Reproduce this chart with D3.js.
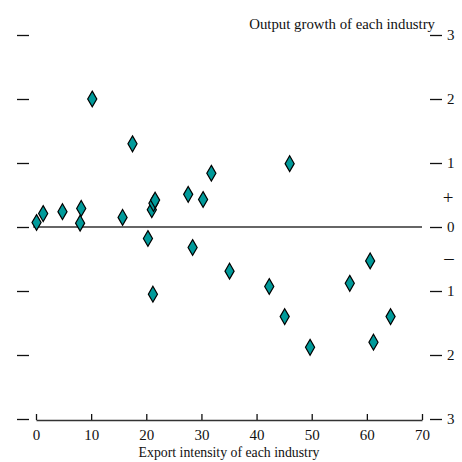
<!DOCTYPE html>
<html>
<head>
<meta charset="utf-8">
<script src="https://cdn.jsdelivr.net/npm/d3@7"></script>
<style>
    body { margin: 0; background: #fff; }
</style>
</head>
<body>
<svg id="chart" width="462" height="462"></svg>
<script>
// export intensity (%) and output growth for each industry
const exportIntensity = [0.1, 1.3, 4.8, 8.2, 8.0, 10.2, 15.7, 17.5, 20.3, 21.0, 21.3, 21.6, 21.2,
    27.6, 28.4, 30.3, 31.8, 35.1, 42.3, 45.1, 46.0, 49.7, 56.9, 60.6, 61.2, 64.3];
const outputGrowth = [0.07, 0.21, 0.24, 0.29, 0.06, 2.0, 0.15, 1.3, -0.18, 0.27, 0.37, 0.42, -1.05,
    0.51, -0.32, 0.43, 0.84, -0.69, -0.93, -1.40, 0.99, -1.88, -0.88, -0.53, -1.80, -1.40];

const xTicks = [0, 10, 20, 30, 40, 50, 60, 70];
const yTicks = [-3, -2, -1, 0, 1, 2, 3];

const xTitle = 'Export intensity of each industry';
const yTitle = 'Output growth of each industry';

const fontFamily = '"Liberation Serif", "Times New Roman", Times, serif';
const ink = '#111';

const points = exportIntensity.map((v, i) => ({ x: v, y: outputGrowth[i] }));

const svg = d3.select('#chart');

const scales = {
    x: d3.scaleLinear().domain([0, 70]).range([36, 422]),
    y: d3.scaleLinear().domain([-3, 3]).range([419, 35])
};

function styleText(sel, size) {
    sel.attr('font-family', fontFamily).attr('font-size', size).attr('fill', ink);
}

// left ticks, no labels
svg.append('g')
    .attr('transform', 'translate(29,0)')
    .call(d3.axisLeft(scales.y).tickValues(yTicks).tickSize(12).tickFormat(''))
    .call(g => g.select('.domain').remove())
    .call(g => g.selectAll('line').attr('stroke', ink).attr('stroke-width', 1.3));

// right ticks with unsigned labels
svg.append('g')
    .attr('transform', 'translate(430,0)')
    .call(d3.axisRight(scales.y).tickValues(yTicks).tickSize(12).tickPadding(5)
        .tickFormat(d => Math.abs(d)))
    .call(g => g.select('.domain').remove())
    .call(g => g.selectAll('line').attr('stroke', ink).attr('stroke-width', 1.3))
    .call(g => styleText(g.selectAll('text'), 15));

// sign markers
svg.append('text')
    .attr('x', 448).attr('y', scales.y(0.47))
    .attr('dy', '0.35em')
    .attr('text-anchor', 'middle')
    .call(styleText, 19)
    .text('+');
svg.append('text')
    .attr('x', 449).attr('y', scales.y(-0.47))
    .attr('dy', '0.35em')
    .attr('text-anchor', 'middle')
    .call(styleText, 19)
    .text('–');

// bottom axis, ticks pointing up
svg.append('g')
    .attr('transform', `translate(0,${scales.y(-3) + 1})`)
    .call(d3.axisBottom(scales.x).tickValues(xTicks).tickSizeInner(-6).tickSizeOuter(0).tickPadding(9))
    .call(g => g.select('.domain').attr('stroke', '#333').attr('stroke-width', 1.5))
    .call(g => g.selectAll('line').attr('stroke', ink).attr('stroke-width', 1.3))
    .call(g => styleText(g.selectAll('text'), 15));

// zero line
svg.append('line')
    .attr('x1', scales.x(-0.5)).attr('x2', scales.x(70))
    .attr('y1', scales.y(0)).attr('y2', scales.y(0))
    .attr('stroke', '#333')
    .attr('stroke-width', 1.5);

// titles
svg.append('text')
    .attr('x', 435).attr('y', 28.5)
    .attr('text-anchor', 'end')
    .call(styleText, 14.8)
    .text(yTitle);
svg.append('text')
    .attr('x', 229).attr('y', 457)
    .attr('text-anchor', 'middle')
    .call(styleText, 13.8)
    .text(xTitle);

// diamonds
const diamond = d3.symbol().type(d3.symbolDiamond).size(72);
svg.append('g')
    .selectAll('path.point')
    .data(points)
    .join('path')
    .classed('point', true)
    .attr('transform', d => `translate(${scales.x(d.x)},${scales.y(d.y)})`)
    .attr('d', diamond)
    .attr('fill', '#009a9a')
    .attr('stroke', '#000')
    .attr('stroke-width', 1.2);
</script>
</body>
</html>
